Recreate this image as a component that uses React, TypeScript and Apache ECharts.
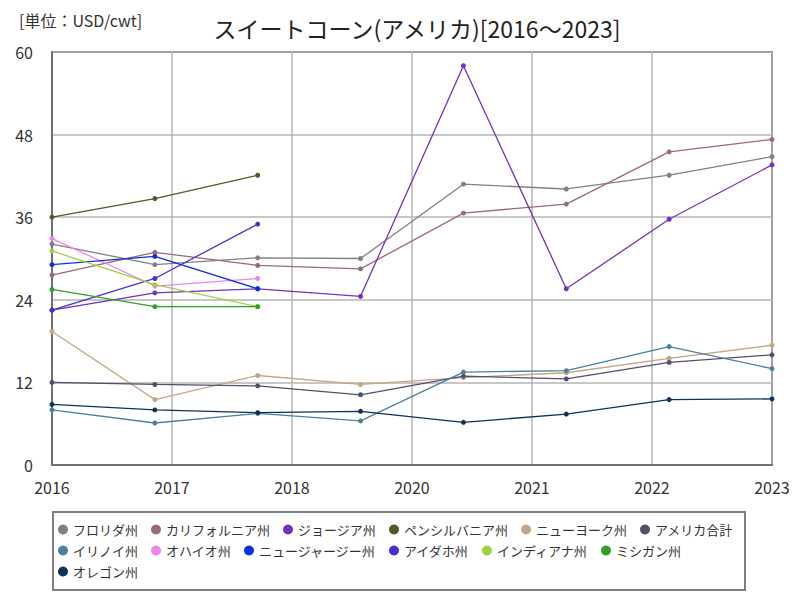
import React, { useEffect, useRef } from "react";
import * as echarts from "echarts";

const years = ["2016", "2017", "2018", "2019", "2020", "2021", "2022", "2023"];
const xTickLabels = ["2016", "2017", "2018", "2020", "2021", "2022", "2023"];
const yTicks = { min: 0, max: 60, interval: 12 };

const florida = [32.1, 29.1, 30.1, 30.0, 40.8, 40.1, 42.1, 44.8];
const california = [27.6, 30.9, 29.0, 28.5, 36.6, 37.9, 45.5, 47.3];
const georgia = [22.5, 25.0, 25.6, 24.5, 58.0, 25.6, 35.7, 43.6];
const pennsylvania = [36.0, 38.7, 42.1, null, null, null, null, null];
const newYork = [19.4, 9.5, 13.0, 11.7, 12.7, 13.4, 15.5, 17.4];
const usTotal = [12.0, 11.7, 11.5, 10.2, 12.9, 12.5, 14.9, 16.0];
const illinois = [8.0, 6.1, 7.5, 6.4, 13.5, 13.7, 17.2, 14.0];
const ohio = [32.9, 26.0, 27.1, null, null, null, null, null];
const newJersey = [29.1, 30.3, 25.6, null, null, null, null, null];
const idaho = [22.5, 27.1, 35.0, null, null, null, null, null];
const indiana = [31.1, 26.2, 23.0, null, null, null, null, null];
const michigan = [25.5, 23.0, 23.0, null, null, null, null, null];
const oregon = [8.8, 8.0, 7.6, 7.8, 6.2, 7.4, 9.5, 9.6];

const seriesDefs: { name: string; data: (number | null)[]; color: string }[] = [
  { name: "フロリダ州", data: florida, color: "#808080" },
  { name: "カリフォルニア州", data: california, color: "#9a6a78" },
  { name: "ジョージア州", data: georgia, color: "#7430be" },
  { name: "ペンシルバニア州", data: pennsylvania, color: "#505a22" },
  { name: "ニューヨーク州", data: newYork, color: "#c4a686" },
  { name: "アメリカ合計", data: usTotal, color: "#50506e" },
  { name: "イリノイ州", data: illinois, color: "#4a80a2" },
  { name: "オハイオ州", data: ohio, color: "#ee82ee" },
  { name: "ニュージャージー州", data: newJersey, color: "#1030e0" },
  { name: "アイダホ州", data: idaho, color: "#4430d4" },
  { name: "インディアナ州", data: indiana, color: "#a0d040" },
  { name: "ミシガン州", data: michigan, color: "#30a028" },
  { name: "オレゴン州", data: oregon, color: "#10305a" },
];

const legendRows = [
  ["フロリダ州", "カリフォルニア州", "ジョージア州", "ペンシルバニア州", "ニューヨーク州", "アメリカ合計"],
  ["イリノイ州", "オハイオ州", "ニュージャージー州", "アイダホ州", "インディアナ州", "ミシガン州"],
  ["オレゴン州"],
];

const FONT = "'Noto Sans CJK JP', 'Noto Sans', sans-serif";

export default function App() {
  const ref = useRef<HTMLDivElement>(null);
  useEffect(() => {
    if (!ref.current) return;
    const chart = echarts.init(ref.current, undefined, { renderer: "svg" });
    chart.setOption({
      animation: false,
      backgroundColor: "#ffffff",
      textStyle: { fontFamily: FONT },
      title: [
        {
          text: "スイートコーン(アメリカ)[2016～2023]",
          left: 412,
          textAlign: "center",
          top: 11,
          textStyle: { fontSize: 23, fontWeight: "normal", color: "#222", fontFamily: FONT },
        },
        {
          text: "[単位：USD/cwt]",
          left: 14,
          top: 7,
          textStyle: { fontSize: 16, fontWeight: "normal", color: "#333", fontFamily: FONT },
        },
      ],
      legend: legendRows.map((row, i) => ({
        data: row,
        left: 58,
        top: 523 + i * 21,
        orient: "horizontal",
        icon: "circle",
        itemWidth: 10,
        itemHeight: 10,
        itemGap: 13,
        padding: 0,
        textStyle: { fontSize: 13, color: "#333", fontFamily: FONT },
      })),
      graphic: [
        {
          type: "rect",
          shape: { x: 53, y: 512, width: 692, height: 78 },
          style: { fill: "none", stroke: "#808080", lineWidth: 2 },
          silent: true,
        },
      ],
      grid: {
        left: 52,
        right: 28,
        top: 52,
        bottom: 135,
        show: true,
        borderColor: "#707070",
        borderWidth: 2,
        containLabel: false,
      },
      xAxis: [
        {
          type: "category",
          data: years,
          boundaryGap: false,
          show: false,
        },
        {
          type: "value",
          min: 0,
          max: xTickLabels.length - 1,
          interval: 1,
          position: "bottom",
          axisLine: { show: true, lineStyle: { color: "#707070", width: 2 } },
          axisTick: { show: false },
          splitLine: { show: true, lineStyle: { color: "#b4b4b4", width: 1.5 } },
          axisLabel: {
            fontSize: 16,
            color: "#333",
            margin: 14,
            fontFamily: FONT,
            formatter: (v: number) => xTickLabels[Math.round(v)] ?? "",
          },
        },
      ],
      yAxis: {
        type: "value",
        min: yTicks.min,
        max: yTicks.max,
        interval: yTicks.interval,
        axisLine: { show: true, lineStyle: { color: "#707070", width: 2 } },
        axisTick: { show: false },
        splitLine: { show: true, lineStyle: { color: "#b4b4b4", width: 1.5 } },
        axisLabel: { fontSize: 16, color: "#333", margin: 19, fontFamily: FONT },
      },
      series: seriesDefs.map((s) => ({
        name: s.name,
        type: "line",
        xAxisIndex: 0,
        data: s.data,
        color: s.color,
        symbol: "circle",
        symbolSize: 5,
        showSymbol: true,
        connectNulls: false,
        lineStyle: { width: 1.3, color: s.color },
        itemStyle: { color: s.color },
      })),
    });
    return () => chart.dispose();
  }, []);
  return <div ref={ref} style={{ width: 800, height: 600, margin: -8 }} />;
}
